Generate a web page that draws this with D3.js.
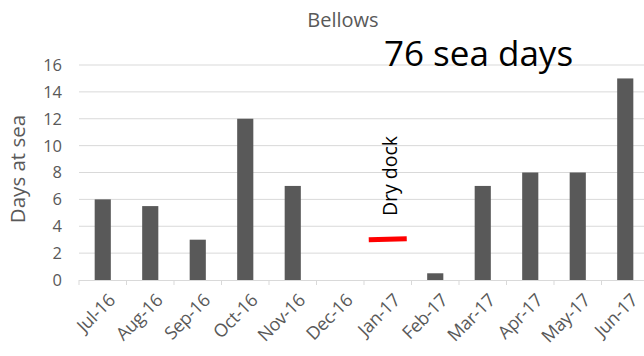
<!DOCTYPE html>
<html>
<head>
<meta charset="utf-8">
<script src="https://cdn.jsdelivr.net/npm/d3@7"></script>
<style>
  html, body { margin: 0; padding: 0; background: #fff; }
  svg { display: block; font-family: "Open Sans", Lato, sans-serif; }
</style>
</head>
<body>
<svg id="chart" width="644" height="356"></svg>
<script>
// Monthly days at sea
const months = ["Jul-16", "Aug-16", "Sep-16", "Oct-16", "Nov-16", "Dec-16",
                "Jan-17", "Feb-17", "Mar-17", "Apr-17", "May-17", "Jun-17"];
const daysAtSea = [6, 5.5, 3, 12, 7, 0, 0, 0.5, 7, 8, 8, 15];
const yTicks = [0, 2, 4, 6, 8, 10, 12, 14, 16];
// Dry dock marker level and month
const dryDockMonth = "Jan-17";
const dryDockLevel = 3;

const svg = d3.select("#chart");
const margin = { left: 79, right: -5 };
const W = 644;

const x = d3.scaleBand().domain(months)
  .range([margin.left, W - margin.right]).paddingInner(0.66).paddingOuter(0.33);
const y = d3.scaleLinear().domain([0, 16]).range([280, 65]);
const step = x.step();

// Gridlines
svg.append("g").selectAll("line").data(yTicks.filter(d => d > 0)).join("line")
  .attr("x1", margin.left).attr("x2", W - margin.right)
  .attr("y1", d => y(d)).attr("y2", d => y(d))
  .attr("stroke", "#d9d9d9").attr("stroke-width", 1);

// Y axis labels
svg.append("g").selectAll("text").data(yTicks).join("text")
  .attr("x", 62).attr("y", d => y(d)).attr("dy", "0.36em")
  .attr("text-anchor", "end").attr("fill", "#595959").attr("font-size", 16.5)
  .text(d => d);

// Bars
svg.append("g").selectAll("rect").data(months.map((m, i) => ({ m, v: daysAtSea[i] })))
  .join("rect")
  .attr("x", d => x(d.m)).attr("width", x.bandwidth())
  .attr("y", d => y(d.v)).attr("height", d => y(0) - y(d.v))
  .attr("fill", "#595959");

// X axis line and ticks at band boundaries
svg.append("line")
  .attr("x1", margin.left).attr("x2", W - margin.right)
  .attr("y1", y(0) + 0.5).attr("y2", y(0) + 0.5)
  .attr("stroke", "#d9d9d9").attr("stroke-width", 1);
const edge = months.map(m => x(m) + x.bandwidth() / 2 - step / 2)
  .concat([x(months[months.length - 1]) + x.bandwidth() / 2 + step / 2]);
svg.append("g").selectAll("line").data(edge).join("line")
  .attr("x1", d => d).attr("x2", d => d)
  .attr("y1", y(0)).attr("y2", y(0) + 5)
  .attr("stroke", "#d9d9d9");

// X labels, rotated
svg.append("g").selectAll("text").data(months).join("text")
  .attr("transform", m => `translate(${x(m) + x.bandwidth() / 2 + 9},${y(0) + 17}) rotate(-45)`)
  .attr("text-anchor", "end").attr("dy", "0.35em")
  .attr("fill", "#595959").attr("font-size", 18).attr("letter-spacing", -0.3)
  .text(d => d);

// Dry dock marker
const cx = x(dryDockMonth) + x.bandwidth() / 2;
svg.append("line")
  .attr("x1", cx - 19).attr("x2", cx + 19)
  .attr("y1", y(dryDockLevel)).attr("y2", y(dryDockLevel) - 1)
  .attr("stroke", "#ff0000").attr("stroke-width", 5);
svg.append("text")
  .attr("transform", `translate(${cx + 9},176) rotate(-90)`)
  .attr("text-anchor", "middle").attr("fill", "#000").attr("font-size", 19.5)
  .text("Dry dock");

// Y axis title
svg.append("text")
  .attr("transform", "translate(25,169) rotate(-90)")
  .attr("text-anchor", "middle").attr("fill", "#595959").attr("font-size", 20.5)
  .text("Days at sea");

// Titles
svg.append("text").attr("x", 343).attr("y", 27)
  .attr("text-anchor", "middle").attr("fill", "#595959").attr("font-size", 20)
  .text("Bellows");
svg.append("text").attr("x", 384).attr("y", 66)
  .attr("fill", "#000").attr("font-size", 35)
  .text("76 sea days");
</script>
</body>
</html>
